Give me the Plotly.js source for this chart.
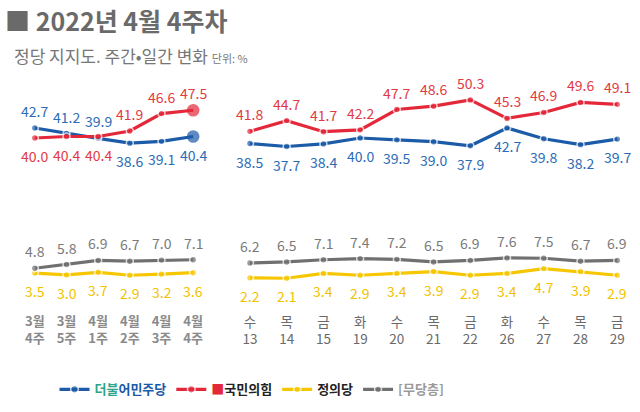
<!DOCTYPE html>
<html><head><meta charset="utf-8">
<script src="https://cdn.plot.ly/plotly-3.0.1.min.js"></script>
<style>html,body{margin:0;padding:0;background:#fff}</style>
</head><body>
<div id="chart" style="width:640px;height:412px"></div>
<script>
// ---- data ----
const weekLabels = ['3월<br>4주','3월<br>5주','4월<br>1주','4월<br>2주','4월<br>3주','4월<br>4주'];
const dayNames = ['수','목','금','화','수','목','금','화','수','목','금'];
const dayDates = ['13','14','15','19','20','21','22','26','27','28','29'];

const weekDem   = [42.7, 41.2, 39.9, 38.6, 39.1, 40.4];
const weekPPP   = [40.0, 40.4, 40.4, 41.9, 46.6, 47.5];
const weekJustice = [3.5, 3.0, 3.7, 2.9, 3.2, 3.6];
const weekNone  = [4.8, 5.8, 6.9, 6.7, 7.0, 7.1];

const dayDem    = [38.5, 37.7, 38.4, 40.0, 39.5, 39.0, 37.9, 42.7, 39.8, 38.2, 39.7];
const dayPPP    = [41.8, 44.7, 41.7, 42.2, 47.7, 48.6, 50.3, 45.3, 46.9, 49.6, 49.1];
const dayJustice = [2.2, 2.1, 3.4, 2.9, 3.4, 3.9, 2.9, 3.4, 4.7, 3.9, 2.9];
const dayNone   = [6.2, 6.5, 7.1, 7.4, 7.2, 6.5, 6.9, 7.6, 7.5, 6.7, 6.9];

// ---- styles ----
const C = {
  dem:  {line:'#1b5ba8', text:'#2c6cb6'},
  ppp:  {line:'#e4283a', text:'#e23a44'},
  jus:  {line:'#f6c700', text:'#f2c200'},
  none: {line:'#707070', text:'#7a7a7a'}
};
// label side: +1 above, -1 below
const weekDemSide = [1,1,1,-1,-1,-1];
const weekPPPSide = [-1,-1,-1,1,1,1];

const FONT = '"Noto Sans CJK KR", "Noto Sans", sans-serif';
const idx = n => Array.from({length:n}, (_, i) => i);

function series(xa, ys, col, name, showleg, big) {
  const n = ys.length;
  return {
    type:'scatter', mode:'lines+markers', xaxis:xa, yaxis:'y',
    x: idx(n), y: ys, name: name, showlegend: showleg, legendgroup: name,
    line:{color:col.line, width:3.2},
    marker:{color:col.line,
      size: idx(n).map(i => big && i === n-1 ? 11 : 7),
      line:{color: idx(n).map(i => big && i === n-1 ? col.line : '#fff'), width:1.6}},
    hoverinfo:'skip'
  };
}

const legNames = {
  dem: '<b><span style="color:#2aa58c">더불</span><span style="color:#1b5ba8">어민주당</span></b>',
  ppp: '<span style="color:#e4283a">■</span><b><span style="color:#222">국민의힘</span></b>',
  jus: '<b><span style="color:#222">정의당</span></b>',
  none: '<b><span style="color:#9a9a9a">[무당층]</span></b>'
};

const traces = [
  series('x', weekDem, C.dem, legNames.dem, true, true),
  series('x', weekPPP, C.ppp, legNames.ppp, true, true),
  series('x', weekJustice, C.jus, legNames.jus, true),
  series('x', weekNone, C.none, legNames.none, true),
  series('x2', dayDem, C.dem, legNames.dem, false),
  series('x2', dayPPP, C.ppp, legNames.ppp, false),
  series('x2', dayJustice, C.jus, legNames.jus, false),
  series('x2', dayNone, C.none, legNames.none, false)
];

const ann = [];
function labels(xa, ys, col, sides) {
  ys.forEach((v, i) => {
    const s = Array.isArray(sides) ? sides[i] : sides;
    ann.push({xref:xa, yref:'y', x:i, y:v, text:v.toFixed(1), showarrow:false,
      yshift: s > 0 ? 17 : -18, font:{family:FONT, size:14, color:col.text}});
  });
}
labels('x', weekDem, C.dem, weekDemSide);
labels('x', weekPPP, C.ppp, weekPPPSide);
labels('x', weekNone, C.none, 1);
labels('x', weekJustice, C.jus, -1);
labels('x2', dayDem, C.dem, -1);
labels('x2', dayPPP, C.ppp, 1);
labels('x2', dayNone, C.none, 1);
labels('x2', dayJustice, C.jus, -1);

ann.push({xref:'paper', yref:'paper', x:12/640, y:(300-55)/240, xanchor:'left', yanchor:'middle',
  showarrow:false, align:'left',
  text:'정당 지지도. 주간•일간 변화 <span style="font-size:11px">단위: %</span>',
  font:{family:FONT, size:17, color:'#777'}});

const layout = {
  width:640, height:412,
  margin:{l:0, r:0, t:60, b:112},
  paper_bgcolor:'#fff', plot_bgcolor:'#fff',
  title:{text:'<b>■ 2022년 4월 4주차</b>', x:5/640, xanchor:'left', xref:'paper',
    yref:'container', y:1-22/412, yanchor:'middle',
    font:{family:FONT, size:25, color:'#6a6a6a'}},
  xaxis:{domain:[19/640, 209/640], range:[-0.5, weekLabels.length-0.5],
    tickmode:'array', tickvals:idx(weekLabels.length), ticktext:weekLabels.map(t=>'<b>'+t+'</b>'),
    showgrid:false, zeroline:false, showline:false, ticks:'', ticklabelstandoff:12,
    tickfont:{family:FONT, size:13, color:'#8a8a8a'}},
  xaxis2:{domain:[231.6/640, 635.6/640], range:[-0.5, dayNames.length-0.5],
    tickmode:'array', tickvals:idx(dayNames.length), ticktext:dayNames.map((d,i)=>d+'<br>'+dayDates[i]),
    showgrid:false, zeroline:false, showline:false, ticks:'', ticklabelstandoff:12,
    tickfont:{family:FONT, size:13.5, color:'#6a6a6a'}},
  yaxis:{range:[40-(300-138)/3.7, 40+(138-60)/3.7], visible:false, showgrid:false, zeroline:false},
  annotations: ann,
  showlegend:true,
  legend:{orientation:'h', x:252/640, xanchor:'center', y:-0.31, yanchor:'top',
    font:{family:FONT, size:13, color:'#222'}, itemwidth:30, tracegroupgap:0,
    bgcolor:'rgba(0,0,0,0)'},
  font:{family:FONT}
};

Plotly.newPlot('chart', traces, layout, {displayModeBar:false, staticPlot:true});
</script>
</body></html>
